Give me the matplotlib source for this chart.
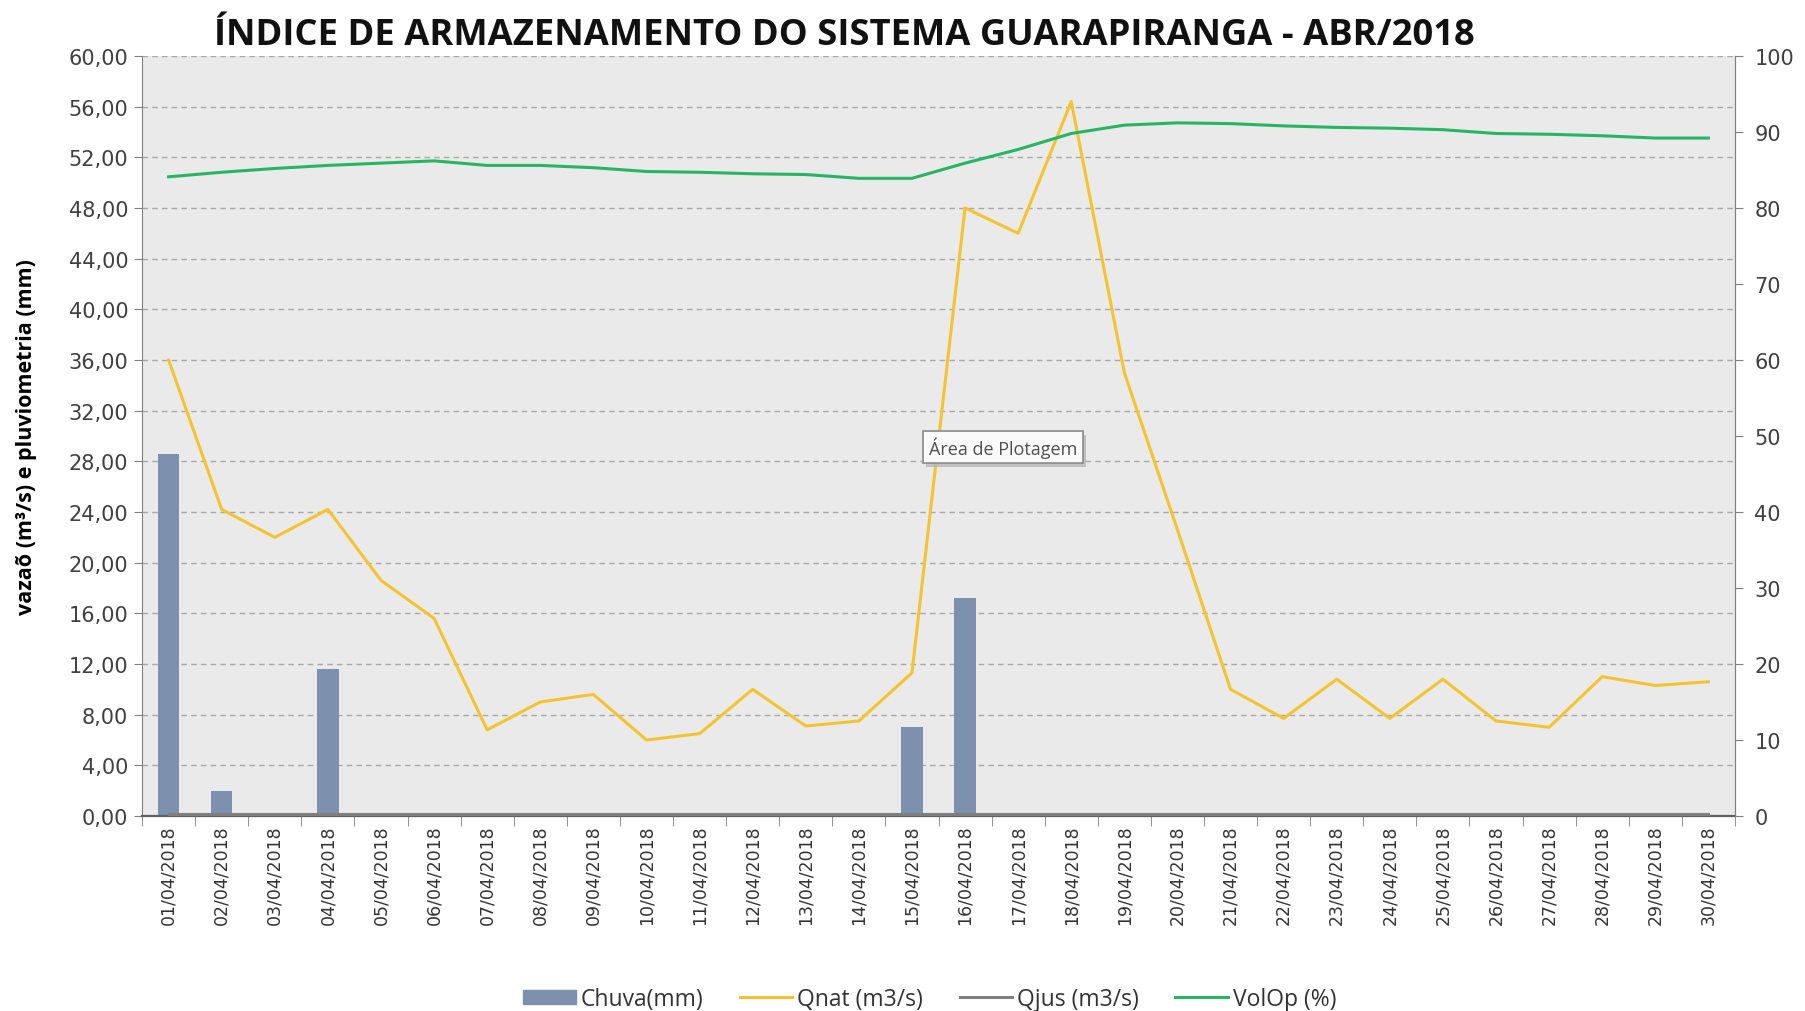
import matplotlib
matplotlib.use("Agg")
import matplotlib.pyplot as plt
from matplotlib.patches import Patch, Rectangle
from matplotlib.lines import Line2D
import numpy as np

# data
dates = [f"{d:02d}/04/2018" for d in range(1, 31)]
chuva = [28.6, 2.0, 0.0, 11.6, 0.0, 0.0, 0.0, 0.0, 0.0, 0.0,
         0.0, 0.0, 0.0, 0.0, 7.0, 17.2, 0.0, 0.0, 0.2, 0.2,
         0.0, 0.2, 0.0, 0.0, 0.0, 0.0, 0.0, 0.0, 0.0, 0.0]
qnat = [36.0, 24.2, 22.0, 24.2, 18.6, 15.6, 6.8, 9.0, 9.6, 6.0,
        6.5, 10.0, 7.1, 7.5, 11.3, 48.0, 46.0, 56.4, 35.0, 22.6,
        10.0, 7.7, 10.8, 7.7, 10.8, 7.5, 7.0, 11.0, 10.3, 10.6]
qjus = [0.15] * 30
volop = [84.1, 84.7, 85.2, 85.6, 85.9, 86.2, 85.6, 85.6, 85.3, 84.8,
         84.7, 84.5, 84.4, 83.9, 83.9, 85.9, 87.7, 89.8, 90.9, 91.2,
         91.1, 90.8, 90.6, 90.5, 90.3, 89.8, 89.7, 89.5, 89.2, 89.2]

left_ticks = np.arange(0, 61, 4)
right_ticks = np.arange(0, 101, 10)

C_BAR = "#7D90AD"
C_QNAT = "#F4C430"
C_QJUS = "#7F7F7F"
C_VOL = "#27B463"
C_TXT = "#404040"
SANS = ["Open Sans", "DejaVu Sans"]

plt.rcParams["font.family"] = ["DejaVu Sans"]

fig = plt.figure(figsize=(18.05, 10.12), dpi=100)
ax = fig.add_axes([0.0787, 0.1927, 0.9612 - 0.0787, 0.9437 - 0.1927])
ax.set_facecolor("#EAEAEA")

x = np.arange(len(dates))
ax.bar(x, chuva, width=0.4, color=C_BAR, zorder=2)
ax.plot(x, qnat, color=C_QNAT, lw=2.2, zorder=3)
ax.plot(x, qjus, color=C_QJUS, lw=2.2, zorder=3)

ax.set_xlim(-0.5, len(dates) - 0.5)
ax.set_ylim(0, 60)
ax.set_yticks(left_ticks)
ax.set_yticklabels([f"{v:.2f}".replace(".", ",") for v in left_ticks])
ax.yaxis.grid(True, ls=(0, (4, 3)), color="#A8A8A8", lw=1.0, zorder=0)

ax.set_xticks(x)
ax.set_xticklabels(dates, rotation=90)
ax.set_xticks(np.arange(-0.5, len(dates), 1), minor=True)
ax.tick_params(axis="x", which="major", length=0, pad=6, labelsize=12.5, colors="#333333")
ax.tick_params(axis="x", which="minor", length=7, color="#808080")
ax.tick_params(axis="y", length=6, color="#808080", labelsize=15, labelcolor=C_TXT, pad=4)

ax.spines["top"].set_visible(False)
for s in ["left", "right"]:
    ax.spines[s].set_color("#808080")
ax.spines["bottom"].set_color("#606060")
ax.spines["bottom"].set_linewidth(1.6)

ax.set_ylabel("vazaõ (m³/s) e pluviometria (mm)", fontsize=15.5, fontweight="bold",
              family=SANS)
ax.yaxis.set_label_coords(-0.066, 0.5)

ax2 = ax.twinx()
ax2.plot(x, volop, color=C_VOL, lw=2.2, zorder=3)
ax2.set_ylim(0, 100)
ax2.set_yticks(right_ticks)
ax2.tick_params(axis="y", length=6, color="#808080", labelsize=15, labelcolor=C_TXT, pad=8)
for s in ["top", "left", "bottom"]:
    ax2.spines[s].set_visible(False)
ax2.spines["right"].set_color("#808080")

fig.text(0.468, 0.964, "ÍNDICE DE ARMAZENAMENTO DO SISTEMA GUARAPIRANGA - ABR/2018",
         ha="center", va="center", fontsize=26.2, fontweight="bold",
         family=SANS, color="#111111")

# hover tooltip visible in the original screenshot
tip = fig.text(0.5557, 0.557, "Área de Plotagem", ha="center", va="center", fontsize=13,
               color="#505050", family=SANS, zorder=10,
               bbox=dict(boxstyle="square,pad=0.3", fc="#FAFAFA", ec="#8A8A8A", lw=1.2))
fig.canvas.draw()
bb = tip.get_bbox_patch().get_window_extent().transformed(fig.transFigure.inverted())
dx, dy = 3 / 1805, 4 / 1012
fig.add_artist(Rectangle((bb.x0 + dx, bb.y0 - dy), bb.width, bb.height,
                         transform=fig.transFigure, fc="#B0B0B0", ec="none",
                         alpha=0.7, zorder=9))

handles = [Patch(color=C_BAR),
           Line2D([], [], color=C_QNAT, lw=2.2),
           Line2D([], [], color=C_QJUS, lw=2.2),
           Line2D([], [], color=C_VOL, lw=2.2)]
labels = ["Chuva(mm)", "Qnat (m3/s)", "Qjus (m3/s)", "VolOp (%)"]
fig.legend(handles, labels, loc="center", bbox_to_anchor=(0.515, 0.012), ncol=4,
           frameon=False, handlelength=2.3, handleheight=0.6, handletextpad=0.2,
           columnspacing=1.6, prop={"family": SANS, "size": 16.5},
           labelcolor="#333333")

fig.savefig("out.png", dpi=100)
